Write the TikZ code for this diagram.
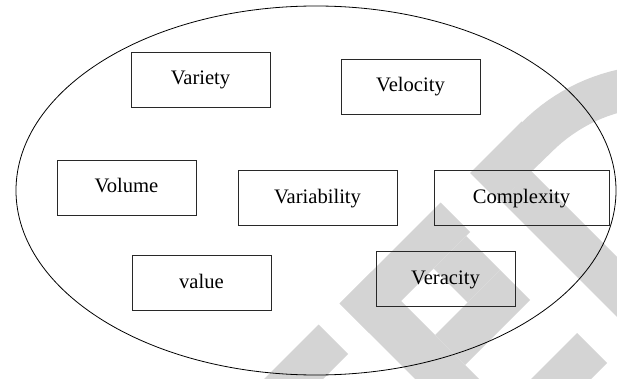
\documentclass[tikz,border=0pt]{standalone}
\usepackage{fontspec}
\setmainfont{Liberation Serif}
\definecolor{wm}{RGB}{212,212,212}
\definecolor{boxline}{RGB}{40,40,40}
\tikzset{
  vbox/.style={draw=boxline, line width=0.9pt, rectangle, inner sep=0pt,
    minimum height=55pt, text height=14pt, text depth=3pt,
    font=\fontsize{20.6}{20.6}\selectfont},
  wmark/.style={fill=wm, draw=none}
}
\begin{document}
\begin{tikzpicture}[x=1pt,y=-1pt]
\useasboundingbox (0,0) rectangle (617,379);
% watermark
\begin{scope}
\clip (0,0) rectangle (617,379);
\fill[wmark] (318.5,324.5) -- (348,354) -- (251,451) -- (221.5,421.5) -- cycle;
\fill[wmark] (339.5,303.5) -- (369,333) -- (470,232) -- (440.5,202.5) -- cycle;
\fill[wmark] (470,173) -- (521.5,121.5)
   -- plot[domain=225:285,samples=25] ({660+195*cos(\x)},{260+195*sin(\x)})
   -- plot[domain=285:225,samples=25] ({660+153*cos(\x)},{260+153*sin(\x)})
   -- (499.5,202.5) -- cycle;
\fill[wmark] (339.5,303.5) -- (371.5,271.5) -- (500,400) -- (468,432) -- cycle;
\fill[wmark] (433.5,268.5) -- (467.5,302.5) -- (500,270) -- (466,236) -- cycle;
\fill[wmark] (435,335) -- (465,365) -- (530,300) -- (500,270) -- cycle;
\fill[wmark] (501,201) -- (531,171) -- (730,370) -- (700,400) -- cycle;
\fill[wmark] (577,333) -- (607,363) -- (535,435) -- (505,405) -- cycle;
\end{scope}
% ellipse
\draw[line width=0.8pt] (316,190.5) ellipse [x radius=300, y radius=184.5];
% boxes
\node[vbox, minimum width=139pt] (variety) at (200.5,79.5) {Variety};
\node[vbox, minimum width=139pt] (velocity) at (410.5,86.5) {Velocity};
\node[vbox, minimum width=139pt] (volume) at (126.5,187.5) {Volume};
\node[vbox, minimum width=159pt] (variability) at (317.5,197.5) {Variability};
\node[vbox, minimum width=175pt] (complexity) at (521.5,197.5) {Complexity};
\node[vbox, minimum width=139pt] (value) at (201.5,283) {value};
\node[vbox, minimum width=139pt] (veracity) at (445.5,278.5) {Veracity};
\end{tikzpicture}
\end{document}
